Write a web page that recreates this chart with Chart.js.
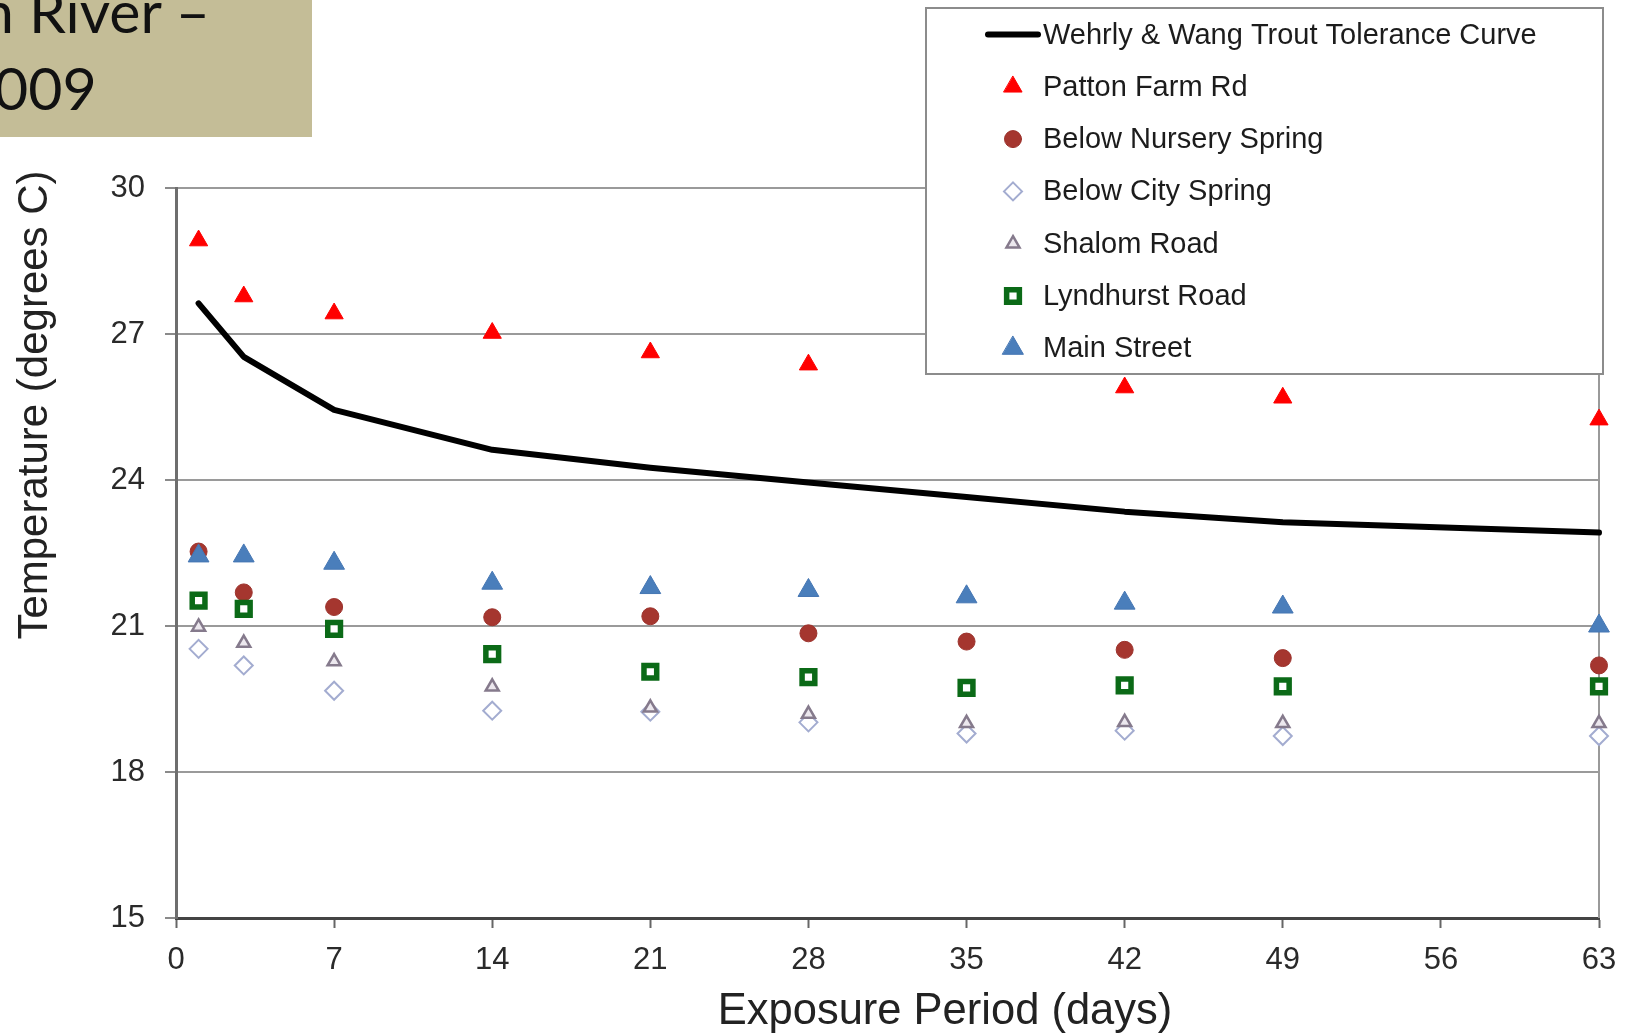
<!DOCTYPE html>
<html>
<head>
<meta charset="utf-8">
<title>Trout tolerance curve</title>
<script src="https://cdn.jsdelivr.net/npm/chart.js@4.4.1/dist/chart.umd.min.js"></script>
<style>
  html, body { margin: 0; padding: 0; background: #fff; }
  #wrap { position: relative; width: 1641px; height: 1036px; overflow: hidden; }
  #chart { position: absolute; left: 0; top: 0; }
  #banner { position: absolute; left: 0; top: 0; width: 312px; height: 137px; background: #c4bd97;
            overflow: hidden; font-family: Lato, "Open Sans", sans-serif; font-size: 59px; line-height: 1; color: #111; }
  #banner span { position: absolute; white-space: nowrap; }
</style>
</head>
<body>
<div id="wrap">
  <canvas id="chart" width="1641" height="1036"></canvas>
  <div id="banner"><span style="left:-19px;top:-19px">n River –</span><span style="left:-6px;top:58px">009</span></div>
</div>
<script>
// exposure period (days) of each reading
const days = [1, 3, 7, 14, 21, 28, 35, 42, 49, 63];

// temperatures (degrees C)
const toleranceCurve = [27.63, 26.53, 25.44, 24.62, 24.25, 23.95, 23.65, 23.35, 23.13, 22.92];
const pattonFarm     = [28.92, 27.77, 27.42, 27.02, 26.62, 26.37, 26.3, 25.9, 25.69, 25.24];
const belowNursery   = [22.53, 21.69, 21.39, 21.18, 21.2, 20.85, 20.68, 20.51, 20.34, 20.19];
const belowCity      = [20.53, 20.19, 19.67, 19.26, 19.24, 19.02, 18.79, 18.85, 18.74, 18.74];
const shalomRoad     = [20.98, 20.65, 20.27, 19.75, 19.32, 19.19, 19.0, 19.02, 19.0, 19.0];
const lyndhurstRoad  = [21.52, 21.35, 20.94, 20.42, 20.06, 19.95, 19.73, 19.78, 19.76, 19.76];
const mainStreet     = [22.44, 22.44, 22.29, 21.88, 21.79, 21.73, 21.6, 21.47, 21.39, 21.0];

const xTicks = [0, 7, 14, 21, 28, 35, 42, 49, 56, 63];
const yTicks = [15, 18, 21, 24, 27, 30];

const seriesNames = ['Wehrly & Wang Trout Tolerance Curve', 'Patton Farm Rd', 'Below Nursery Spring',
                     'Below City Spring', 'Shalom Road', 'Lyndhurst Road', 'Main Street'];

const FONT = '"Liberation Sans", Arial, sans-serif';

// marker looks, shared by the plot and the legend
const markers = [
  null,
  { shape: 'triangle', r: 10.5, fill: '#ff0000', stroke: '#ff0000', w: 1 },
  { shape: 'circle',   r: 8.5,  fill: '#a5362f', stroke: '#9c332d', w: 1 },
  { shape: 'rectRot',  r: 9,    fill: '#ffffff', stroke: '#a3acd0', w: 2 },
  { shape: 'triangle', r: 7.5,  fill: '#ece8ee', stroke: '#857a8c', w: 2.5 },
  { shape: 'rect',     r: 9,    fill: '#ffffff', stroke: '#0b6a17', w: 5.5 },
  { shape: 'triangle', r: 12,   fill: '#4a7ebb', stroke: '#4576b3', w: 1 }
];

const seriesValues = [toleranceCurve, pattonFarm, belowNursery, belowCity, shalomRoad, lyndhurstRoad, mainStreet];

function pts(values) {
  return days.map((d, i) => ({ x: d, y: values[i] }));
}

const datasets = seriesValues.map((vals, i) => {
  if (i === 0) {
    return {
      label: seriesNames[0], data: pts(vals), showLine: true,
      borderColor: '#000', borderWidth: 6, pointRadius: 0, tension: 0,
      borderJoinStyle: 'round', borderCapStyle: 'round', clip: false, order: 10
    };
  }
  const m = markers[i];
  return {
    label: seriesNames[i], data: pts(vals), showLine: false,
    pointStyle: m.shape, pointRadius: m.r, pointHoverRadius: m.r,
    backgroundColor: m.fill, borderColor: m.stroke, pointBorderWidth: m.w,
    clip: false, order: 10 - i
  };
});

function markerPath(ctx, shape, x, y, r) {
  ctx.beginPath();
  if (shape === 'circle') {
    ctx.arc(x, y, r, 0, Math.PI * 2);
  } else if (shape === 'triangle') {
    ctx.moveTo(x, y - r);
    ctx.lineTo(x + r * 0.866, y + r / 2);
    ctx.lineTo(x - r * 0.866, y + r / 2);
  } else if (shape === 'rect') {
    const s = r * Math.SQRT1_2;
    ctx.rect(x - s, y - s, 2 * s, 2 * s);
  } else if (shape === 'rectRot') {
    ctx.moveTo(x, y - r);
    ctx.lineTo(x + r, y);
    ctx.lineTo(x, y + r);
    ctx.lineTo(x - r, y);
  }
  ctx.closePath();
}

// right edge of the plot frame, under the markers
const framePlugin = {
  id: 'frame',
  beforeDatasetsDraw(chart) {
    const { ctx, chartArea: a } = chart;
    ctx.save();
    ctx.strokeStyle = '#9a9a9a';
    ctx.lineWidth = 2;
    ctx.beginPath();
    ctx.moveTo(a.right, a.top);
    ctx.lineTo(a.right, a.bottom);
    ctx.stroke();
    ctx.restore();
  }
};

// axis titles and the boxed legend on top
const overlayPlugin = {
  id: 'overlay',
  afterDraw(chart) {
    const ctx = chart.ctx;
    ctx.save();
    ctx.fillStyle = '#222';
    ctx.textAlign = 'center';
    ctx.textBaseline = 'middle';

    ctx.font = '43.5px ' + FONT;
    ctx.fillText('Exposure Period (days)', 945, 1012);

    ctx.save();
    ctx.translate(35, 405);
    ctx.rotate(-Math.PI / 2);
    ctx.font = '42px ' + FONT;
    ctx.fillText('Temperature (degrees C)', 0, 0);
    ctx.restore();

    // legend box
    ctx.fillStyle = '#fff';
    ctx.fillRect(926, 8, 677, 366);
    ctx.strokeStyle = '#8c8c8c';
    ctx.lineWidth = 2;
    ctx.strokeRect(926, 8, 677, 366);

    ctx.font = '29px ' + FONT;
    ctx.textAlign = 'left';
    seriesNames.forEach((name, i) => {
      const y = 34.5 + i * 52.3;
      if (i === 0) {
        ctx.strokeStyle = '#000';
        ctx.lineWidth = 6;
        ctx.lineCap = 'round';
        ctx.beginPath();
        ctx.moveTo(988, y);
        ctx.lineTo(1038, y);
        ctx.stroke();
      } else {
        const m = markers[i];
        markerPath(ctx, m.shape, 1013, y, m.r);
        ctx.fillStyle = m.fill;
        ctx.fill();
        ctx.strokeStyle = m.stroke;
        ctx.lineWidth = m.w;
        ctx.stroke();
      }
      ctx.fillStyle = '#1c1c1c';
      ctx.fillText(name, 1043, y + 1);
    });
    ctx.restore();
  }
};

new Chart(document.getElementById('chart').getContext('2d'), {
  type: 'scatter',
  data: { datasets: datasets },
  plugins: [framePlugin, overlayPlugin],
  options: {
    responsive: false,
    animation: false,
    layout: { padding: { left: 0, right: 42, top: 188, bottom: 0 } },
    plugins: { legend: { display: false }, tooltip: { enabled: false } },
    scales: {
      x: {
        type: 'linear', min: 0, max: 63,
        afterBuildTicks: s => { s.ticks = xTicks.map(v => ({ value: v })); },
        afterFit: s => { s.height = 118; },
        grid: { drawOnChartArea: false, drawTicks: true, tickLength: 10, tickColor: '#666', tickWidth: 2 },
        border: { display: true, color: '#444', width: 3 },
        ticks: { padding: 14, color: '#2a2a2a', font: { family: FONT, size: 31 }, maxRotation: 0, autoSkip: false }
      },
      y: {
        type: 'linear', min: 15, max: 30,
        afterBuildTicks: s => { s.ticks = yTicks.map(v => ({ value: v })); },
        afterFit: s => { s.width = 176; },
        grid: { color: '#9a9a9a', lineWidth: 2, drawTicks: true, tickLength: 11, tickColor: '#8a8a8a' },
        border: { display: true, color: '#6e6e6e', width: 3 },
        ticks: { padding: 20, color: '#2a2a2a', font: { family: FONT, size: 31 }, autoSkip: false }
      }
    }
  }
});
</script>
</body>
</html>
